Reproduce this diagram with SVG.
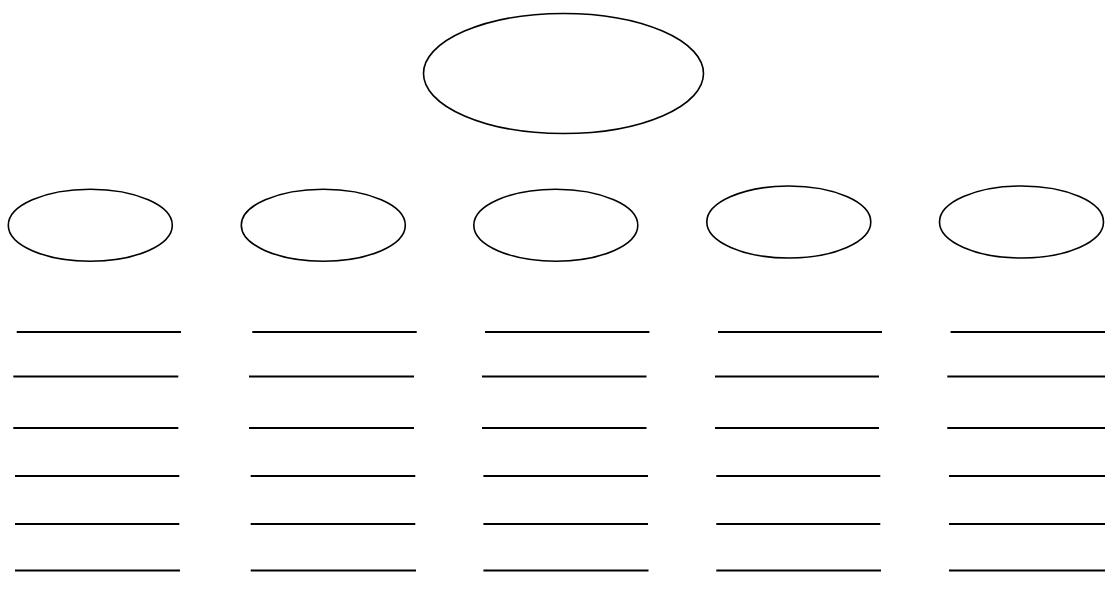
<svg xmlns="http://www.w3.org/2000/svg" width="1105" height="612" viewBox="0 0 1105 612">
<style>
.n{fill:#fff;stroke:#000;stroke-width:1.6}
.l{stroke:#000;stroke-width:2;fill:none}
</style>
<rect width="1105" height="612" fill="#fff"/>
<g id="root"><ellipse class="n" cx="563.5" cy="73.5" rx="140" ry="60"/></g>
<g id="node1"><ellipse class="n" cx="90.3" cy="225.2" rx="82" ry="36"/></g>
<g id="node2"><ellipse class="n" cx="323.3" cy="225.2" rx="82" ry="36"/></g>
<g id="node3"><ellipse class="n" cx="555.8" cy="225.2" rx="82" ry="36"/></g>
<g id="node4"><ellipse class="n" cx="788.8" cy="222" rx="82" ry="36"/></g>
<g id="node5"><ellipse class="n" cx="1021.5" cy="222" rx="82" ry="36"/></g>
<g id="lines">
<path class="l" d="M16.7 332H181M13.3 376.5H178.3M13.3 428H178.3M15 476H179.3M15 524H179.3M15 570.5H180"/>
<path class="l" d="M252.3 332H416.7M249 376.5H414M249 428H414M250.7 476H415.3M250.7 524H415.3M250.7 570.5H416"/>
<path class="l" d="M485 332H649.4M482 376.5H646.5M482 428H646.5M483.4 476H648M483.4 524H648M483.4 570.5H648.5"/>
<path class="l" d="M718 332H882M715 376.5H879M715 428H879M716.3 476H880.3M716.3 524H880.3M716.3 570.5H881"/>
<path class="l" d="M950.6 332H1115M947.3 376.5H1112M947.3 428H1112M949 476H1113M949 524H1113M949 570.5H1114"/>
</g>
</svg>
